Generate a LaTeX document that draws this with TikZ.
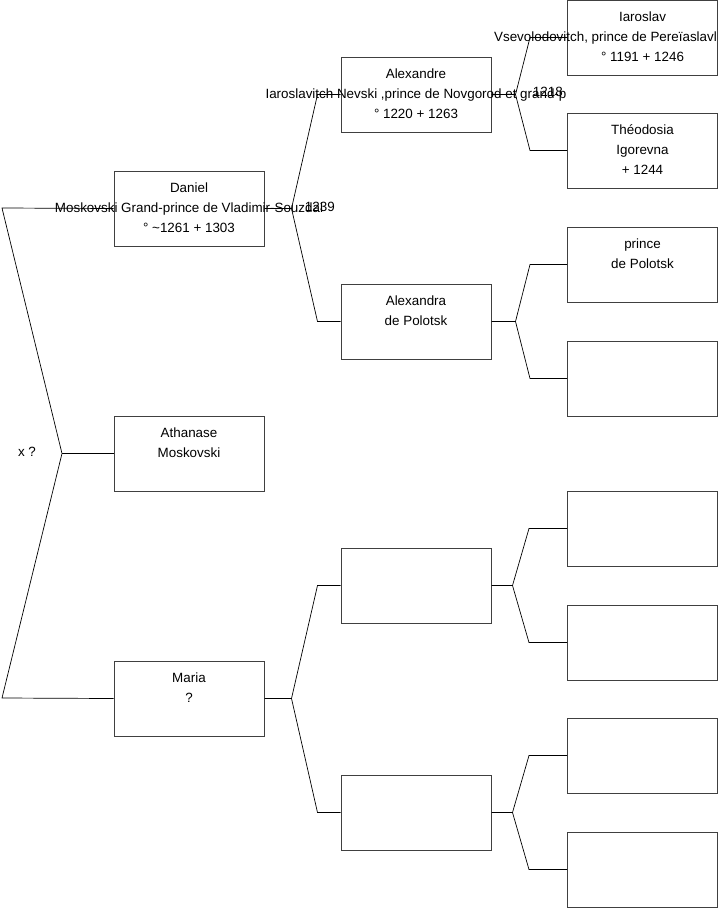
\documentclass[tikz,border=0pt]{standalone}
\usepackage{fontspec}
\setmainfont{Liberation Sans}
\usepackage{tikz}
\usetikzlibrary{positioning}
\newcommand{\who}[1]{\makebox[0pt]{\begin{tabular}{@{}c@{}}#1\end{tabular}}}

\begin{document}
\begin{tikzpicture}[
        x=1pt, y=-1pt,
        font=\fontsize{13.4}{20}\selectfont,
        person/.style={draw=black!75, line width=1pt,
                       minimum width=150pt, minimum height=75pt, inner sep=0pt},
        note/.style  ={inner sep=0pt},
        link/.style  ={draw=black, line width=0.7pt}
    ]
    \useasboundingbox (0,0) rectangle (719,908);

    % --- nodes ---
    \node[person] (dan) at (189,208.5) {\who{Daniel\\Moskovski Grand-prince de Vladimir-Souzdal\\° \textasciitilde1261 + 1303}};
    \node[person] (ath) at (189,453.5) {\who{Athanase\\Moskovski\\~}};
    \node[person] (mar) at (189,698.5) {\who{Maria\\?\\~}};

    \node[person] (ale) at (416,94.5)  {\who{Alexandre\\Iaroslavitch Nevski ,prince de Novgorod et grand-p\\° 1220 + 1263}};
    \node[person] (alx) at (416,321.5) {\who{Alexandra\\de Polotsk\\~}};
    \node[person] (ma1) at (416,585.5) {};
    \node[person] (ma2) at (416,812.5) {};

    \node[person] (iar) at (642.5,37.5)  {\who{Iaroslav\\Vsevolodovitch, prince de Pereïaslavl\hspace*{74pt}\\° 1191 + 1246}};
    \node[person] (the) at (642.5,150.5) {\who{Théodosia\\Igorevna\\+ 1244}};
    \node[person] (pri) at (642.5,264.5) {\who{prince\\de Polotsk\\~}};
    \node[person] (alm) at (642.5,378.5) {};
    \node[person] (e1)  at (642.5,528.5) {};
    \node[person] (e2)  at (642.5,642.5) {};
    \node[person] (e3)  at (642.5,755.5) {};
    \node[person] (e4)  at (642.5,869.5) {};

    \node[note, anchor=east] (dyr) at (335,207) {1239};
    \node[note, anchor=east] (ayr) at (563,92)  {1218};
    \node[note] (xq) at (27,452) {x ?};

    % --- links ---
    \coordinate (top)  at (2,208);
    \coordinate (mid)  at (62,453.5);
    \coordinate (bot)  at (2,698);
    \draw[link] (dan.west) -- (top) -- (mid) -- (bot) -- (mar.west);
    \draw[link] (mid) -- (ath.west);

    \coordinate (fdan) at ([xshift=27]dan.east);
    \draw[link] (dan.east) -- (fdan) -- ([xshift=-23]ale.west) -- (ale.west);
    \draw[link] (fdan) -- ([xshift=-23]alx.west) -- (alx.west);

    \coordinate (fmar) at ([xshift=27]mar.east);
    \draw[link] (mar.east) -- (fmar) -- ([xshift=-23]ma1.west) -- (ma1.west);
    \draw[link] (fmar) -- ([xshift=-23]ma2.west) -- (ma2.west);

    \coordinate (fale) at ([xshift=24]ale.east);
    \draw[link] (ale.east) -- (fale) -- ([xshift=-37]iar.west) -- (iar.west);
    \draw[link] (fale) -- ([xshift=-37]the.west) -- (the.west);

    \coordinate (falx) at ([xshift=24]alx.east);
    \draw[link] (alx.east) -- (falx) -- ([xshift=-37]pri.west) -- (pri.west);
    \draw[link] (falx) -- ([xshift=-37]alm.west) -- (alm.west);

    \coordinate (fma1) at ([xshift=21]ma1.east);
    \draw[link] (ma1.east) -- (fma1) -- ([xshift=-38]e1.west) -- (e1.west);
    \draw[link] (fma1) -- ([xshift=-38]e2.west) -- (e2.west);

    \coordinate (fma2) at ([xshift=21]ma2.east);
    \draw[link] (ma2.east) -- (fma2) -- ([xshift=-38]e3.west) -- (e3.west);
    \draw[link] (fma2) -- ([xshift=-38]e4.west) -- (e4.west);

\end{tikzpicture}
\end{document}
